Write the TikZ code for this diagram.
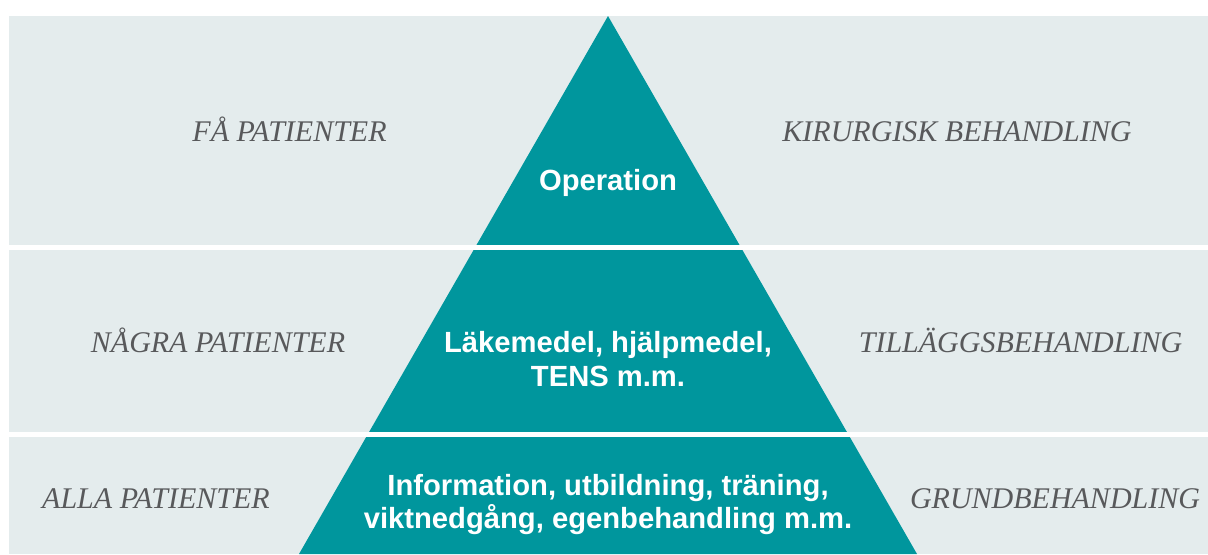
\documentclass[tikz,border=0pt]{standalone}
\usepackage{fontspec}
\setmainfont{Liberation Serif}
\setsansfont{Liberation Sans}
\definecolor{pyramid}{RGB}{0,150,157}
\definecolor{bandgray}{RGB}{228,236,237}
\definecolor{labelgray}{RGB}{88,89,91}

\begin{document}
\begin{tikzpicture}[x=0.5pt,y=-0.5pt]
\tikzset{SideLabel/.style ={text=labelgray, inner sep=0pt, anchor=base,
  font=\itshape\fontsize{15}{17}\selectfont}}
\tikzset{StepLabel/.style ={text=white, inner sep=0pt, anchor=base, align=center,
  font=\sffamily\bfseries\fontsize{14.6}{17.1}\selectfont}}
\tikzset{Gap/.style ={white, line width=2.65pt}}
\useasboundingbox (0,0) rectangle (1208,554);
\fill[bandgray] (9,16) rectangle (1208,554);
\fill[pyramid] (608,16) -- (299,554) -- (917,554) -- cycle;
\coordinate (G1L) at (9,247.6);
\coordinate (G1R) at (1208,247.6);
\coordinate (G2L) at (9,434.8);
\coordinate (G2R) at (1208,434.8);
\draw[Gap] (G1L) -- (G1R);
\draw[Gap] (G2L) -- (G2R);
\node[StepLabel] (top) at (608,190) {Operation};
\node[StepLabel] (mid) at (608,386.5) {Läkemedel, hjälpmedel,\\TENS m.m.};
\node[StepLabel, font=\sffamily\bfseries\fontsize{14.6}{15}\selectfont]
  (base) at (608,528) {Information, utbildning, träning,\\viktnedgång, egenbehandling m.m.};
\node[SideLabel] (few) at (289.5,141.5) {FÅ PATIENTER};
\node[SideLabel] (some) at (218,352) {NÅGRA PATIENTER};
\node[SideLabel] (all) at (156,508.5) {ALLA PATIENTER};
\node[SideLabel] (surgery) at (957,141.5) {KIRURGISK BEHANDLING};
\node[SideLabel] (extra) at (1020.5,352) {TILLÄGGSBEHANDLING};
\node[SideLabel] (basic) at (1055,508.5) {GRUNDBEHANDLING};
\end{tikzpicture}
\end{document}
